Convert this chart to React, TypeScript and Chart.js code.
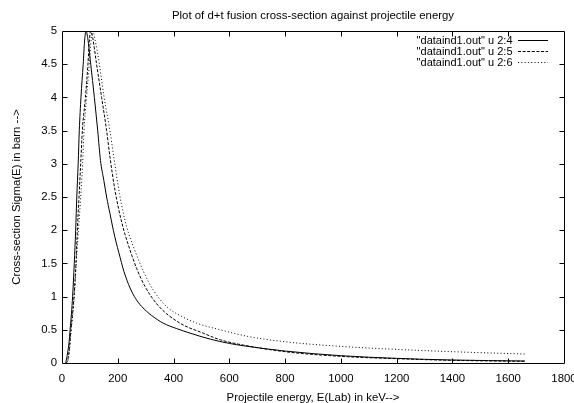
import React, { useEffect, useRef } from "react";
import { Chart, registerables } from "chart.js";

Chart.register(...registerables);

const FONT = "'Liberation Sans', Arial, Helvetica, sans-serif";
const FS = 11.4;

const chartTitle = "Plot of d+t fusion cross-section against projectile energy";
const xAxisTitle = "Projectile energy, E(Lab) in keV-->";
const yAxisTitle = "Cross-section Sigma(E) in barn -->";
const seriesLabels = ['"dataind1.out" u 2:4', '"dataind1.out" u 2:5', '"dataind1.out" u 2:6'];

const xMin = 0;
const xMax = 1800;
const xStep = 200;
const yMin = 0;
const yMax = 5;
const yStep = 0.5;

// Series u 2:4 (solid)
const solidE = [10, 14, 20, 25, 29, 34, 38, 44, 49, 53, 58, 62, 68, 76, 81, 86, 92, 103, 116, 128, 138, 150, 160, 172, 184, 194, 204, 222, 244, 264, 286, 320, 363, 410, 459, 531, 600, 650, 800, 1000, 1200, 1400, 1660];
const solidS = [0, 0.02, 0.15, 0.3, 0.5, 0.75, 1, 1.5, 2, 2.5, 3, 3.5, 4, 4.5, 4.85, 5, 4.9, 4.5, 4, 3.5, 3.05, 2.75, 2.5, 2.25, 2, 1.82, 1.66, 1.38, 1.13, 0.97, 0.85, 0.72, 0.6, 0.52, 0.45, 0.36, 0.295, 0.26, 0.18, 0.11, 0.07, 0.045, 0.03];

// Series u 2:5 (dashed)
const dashE = [14, 19, 26, 32, 38, 43, 50, 55, 61, 67, 73, 84, 93, 98, 103, 110, 124, 142, 160, 172, 190, 214, 240, 268, 298, 346, 423, 506, 567, 650, 800, 1000, 1200, 1400, 1660];
const dashS = [0, 0.02, 0.2, 0.5, 0.75, 1, 1.5, 2, 2.5, 3, 3.5, 4, 4.5, 4.85, 5, 4.9, 4.5, 4, 3.5, 3.1, 2.6, 2.12, 1.75, 1.42, 1.15, 0.86, 0.6, 0.45, 0.35, 0.27, 0.17, 0.1, 0.065, 0.04, 0.025];

// Series u 2:6 (dotted)
const dotE = [15, 20, 27, 33, 39, 44, 51, 59, 67, 74, 79, 88, 98, 104, 110, 117, 134, 151, 172, 184, 206, 232, 259, 292, 327, 375, 430, 483, 567, 667, 800, 1000, 1200, 1400, 1660];
const dotS = [0, 0.02, 0.2, 0.5, 0.75, 1, 1.5, 2, 2.5, 3, 3.5, 4, 4.5, 4.85, 5, 4.9, 4.5, 4, 3.5, 3.15, 2.55, 2.05, 1.72, 1.38, 1.1, 0.85, 0.7, 0.6, 0.5, 0.4, 0.32, 0.25, 0.205, 0.17, 0.135];

const seriesDash = [[], [3, 1.6], [1, 2.3]];

const toPoints = (xs: number[], ys: number[]) => xs.map((x, i) => ({ x, y: ys[i] }));

const TICK_LEN = 5;

const framePlugin = {
  id: "gnuplotFrame",
  afterDatasetsDraw(chart: any) {
    const { ctx, chartArea, scales } = chart;
    const { left, right, top, bottom } = chartArea;
    const L = Math.round(left) + 0.5;
    const R = Math.round(right) + 0.5;
    const T = Math.round(top) + 0.5;
    const B = Math.round(bottom) + 0.5;
    ctx.save();
    ctx.strokeStyle = "#000";
    ctx.lineWidth = 1;
    ctx.setLineDash([]);
    ctx.beginPath();
    ctx.rect(L, T, R - L, B - T);
    ctx.stroke();
    ctx.beginPath();
    scales.x.ticks.forEach((t: any) => {
      const px = Math.round(scales.x.getPixelForValue(t.value)) + 0.5;
      if (px <= L + 1 || px >= R - 1) return;
      ctx.moveTo(px, B);
      ctx.lineTo(px, B - TICK_LEN);
      ctx.moveTo(px, T);
      ctx.lineTo(px, T + TICK_LEN);
    });
    scales.y.ticks.forEach((t: any) => {
      const py = Math.round(scales.y.getPixelForValue(t.value)) + 0.5;
      if (py <= T + 1 || py >= B - 1) return;
      ctx.moveTo(L, py);
      ctx.lineTo(L + TICK_LEN, py);
      ctx.moveTo(R, py);
      ctx.lineTo(R - TICK_LEN, py);
    });
    ctx.stroke();
    ctx.restore();
  },
};

const LEGEND_RIGHT = 548;
const LEGEND_TOP = 35;

const legendPlacePlugin = {
  id: "legendPlace",
  afterLayout(chart: any) {
    const lg = chart.legend;
    if (!lg) return;
    const w = lg.width;
    const h = lg.height;
    lg.right = LEGEND_RIGHT;
    lg.left = LEGEND_RIGHT - w;
    lg.top = LEGEND_TOP;
    lg.bottom = LEGEND_TOP + h;
  },
};

export default function App() {
  const ref = useRef<HTMLCanvasElement>(null);

  useEffect(() => {
    if (!ref.current) return;
    const common = {
      borderColor: "#000",
      borderWidth: 1,
      pointRadius: 0,
      pointHoverRadius: 0,
      pointStyle: "line",
      fill: false,
      cubicInterpolationMode: "monotone",
    };
    const chart = new Chart(ref.current, {
      type: "line",
      data: {
        datasets: [
          { ...common, label: seriesLabels[0], data: toPoints(solidE, solidS), borderDash: seriesDash[0] },
          { ...common, label: seriesLabels[1], data: toPoints(dashE, dashS), borderDash: seriesDash[1] },
          { ...common, label: seriesLabels[2], data: toPoints(dotE, dotS), borderDash: seriesDash[2] },
        ] as any,
      },
      options: {
        animation: false,
        responsive: false,
        devicePixelRatio: 1,
        events: [],
        layout: { padding: { left: 0, right: 10, top: 0, bottom: 0 } },
        plugins: {
          tooltip: { enabled: false },
          title: {
            display: true,
            text: chartTitle,
            fullSize: false,
            color: "#000",
            font: { family: FONT, size: FS, weight: "normal", lineHeight: 1.2 },
            padding: { top: 9.2, bottom: 8.1 },
          },
          legend: {
            display: true,
            position: "chartArea",
            align: "start",
            rtl: true,
            labels: {
              usePointStyle: true,
              pointStyleWidth: 30,
              boxHeight: 11,
              padding: 0,
              color: "#000",
              font: { family: FONT, size: 11, lineHeight: 1 },
              generateLabels(chart: any) {
                const items = (Chart as any).defaults.plugins.legend.labels.generateLabels(chart);
                items.forEach((it: any) => {
                  const ds = chart.data.datasets[it.datasetIndex];
                  it.lineDash = ds.borderDash || [];
                  it.strokeStyle = "#000";
                  it.fillStyle = "#000";
                  it.lineWidth = 1;
                  it.pointStyle = "line";
                  it.fontColor = "#000";
                });
                return items;
              },
            },
          },
        },
        scales: {
          x: {
            type: "linear",
            min: xMin,
            max: xMax,
            grid: { display: false, drawTicks: false },
            border: { display: false },
            ticks: {
              stepSize: xStep,
              color: "#000",
              padding: 9,
              maxRotation: 0,
              autoSkip: false,
              font: { family: FONT, size: FS },
              callback: (v: any) => String(v),
            },
            title: {
              display: true,
              text: xAxisTitle,
              color: "#000",
              font: { family: FONT, size: FS, lineHeight: 1 },
              padding: { top: 0, bottom: -0.5 },
            },
            afterFit(scale: any) {
              scale.height = 40;
              scale.paddingLeft = 0;
              scale.paddingRight = 0;
            },
          },
          y: {
            type: "linear",
            min: yMin,
            max: yMax,
            grid: { display: false, drawTicks: false },
            border: { display: false },
            ticks: {
              stepSize: yStep,
              color: "#000",
              padding: 5,
              autoSkip: false,
              font: { family: FONT, size: FS },
              callback: (v: any) => String(v),
            },
            title: {
              display: true,
              text: yAxisTitle,
              color: "#000",
              font: { family: FONT, size: FS, lineHeight: 1 },
              padding: { top: 11, bottom: 0 },
            },
            afterFit(scale: any) {
              scale.width = 62;
              scale.paddingTop = 0;
              scale.paddingBottom = 0;
            },
          },
        },
      } as any,
      plugins: [framePlugin, legendPlacePlugin],
    });
    return () => chart.destroy();
  }, []);

  return (
    <div style={{ position: "fixed", left: 0, top: 0, width: 574, height: 403, background: "#fff" }}>
      <canvas ref={ref} width={574} height={403} style={{ display: "block", width: 574, height: 403 }} />
    </div>
  );
}
